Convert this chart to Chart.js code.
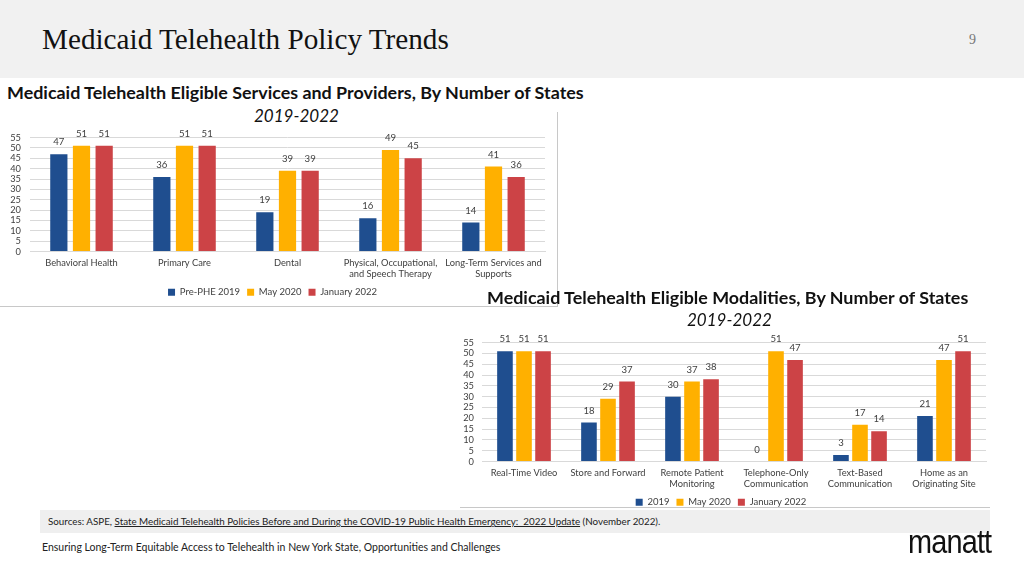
<!DOCTYPE html>
<html>
<head>
<meta charset="utf-8">
<script src="https://cdn.jsdelivr.net/npm/chart.js@4"></script>
<style>
  html,body{margin:0;padding:0;background:#fff;}
  body{width:1024px;height:576px;position:relative;overflow:hidden;font-family:Lato,"Open Sans",sans-serif;}
  .abs{position:absolute;white-space:nowrap;}
  #header{left:0;top:0;width:1024px;height:78px;background:#f1f1f1;}
  #htitle{left:42px;top:23px;font-family:"Liberation Serif","DejaVu Serif",serif;font-size:29.2px;color:#111;}
  #pnum{left:969px;top:32px;font-family:"Liberation Serif",serif;font-size:14px;color:#777;}
  .ctitle{font-weight:bold;font-size:17.9px;color:#111;}
  .csub{font-style:italic;font-size:17px;color:#111;}
  #frame1{left:0;top:112px;width:557px;height:194px;border-right:1px solid #c8c8c8;border-bottom:1px solid #c8c8c8;}
  #line2{left:460px;top:507px;width:530px;height:0;border-top:1px solid #c8c8c8;}
  #src{left:40px;top:510px;width:950px;height:23px;background:#efefef;}
  #srct{left:48px;top:515px;font-size:9.8px;color:#222;}
  #foot{left:42px;top:541px;font-size:10.5px;color:#222;}
  #logo{left:908px;top:522px;font-family:"Liberation Sans Narrow","Liberation Sans",sans-serif;font-size:34px;color:#111;letter-spacing:-1px;transform:scaleX(0.85);transform-origin:0 0;}
</style>
</head>
<body>
<div id="header" class="abs"></div>
<div id="htitle" class="abs">Medicaid Telehealth Policy Trends</div>
<div id="pnum" class="abs">9</div>
<div id="frame1" class="abs"></div>
<div class="abs ctitle" style="left:7px;top:81px;">Medicaid Telehealth Eligible Services and Providers, By Number of States</div>
<div class="abs csub" style="left:254px;top:105px;">2019-2022</div>
<div class="abs" style="left:0;top:123px;width:557px;height:184px;"><canvas id="c1"></canvas></div>
<div class="abs ctitle" style="left:487px;top:286px;">Medicaid Telehealth Eligible Modalities, By Number of States</div>
<div class="abs csub" style="left:687px;top:309px;">2019-2022</div>
<div class="abs" style="left:456px;top:329px;width:540px;height:188px;"><canvas id="c2"></canvas></div>
<div id="line2" class="abs"></div>
<div id="src" class="abs"></div>
<div id="srct" class="abs">Sources: ASPE, <u>State Medicaid Telehealth Policies Before and During the COVID-19 Public Health Emergency:&nbsp; 2022 Update</u> (November 2022).</div>
<div id="foot" class="abs">Ensuring Long-Term Equitable Access to Telehealth in New York State, Opportunities and Challenges</div>
<div id="logo" class="abs">manatt</div>
<script>
const servicesCategories = ["Behavioral Health", "Primary Care", "Dental", ["Physical, Occupational,", "and Speech Therapy"], ["Long-Term Services and", "Supports"]];
const servicesPrePHE2019 = [47, 36, 19, 16, 14];
const servicesMay2020 = [51, 51, 39, 49, 41];
const servicesJan2022 = [51, 51, 39, 45, 36];
const servicesSeriesNames = ["Pre-PHE 2019", "May 2020", "January 2022"];

const modalityCategories = ["Real-Time Video", "Store and Forward", ["Remote Patient", "Monitoring"], ["Telephone-Only", "Communication"], ["Text-Based", "Communication"], ["Home as an", "Originating Site"]];
const modality2019 = [51, 18, 30, 0, 3, 21];
const modalityMay2020 = [51, 29, 37, 51, 17, 47];
const modalityJan2022 = [51, 37, 38, 47, 14, 51];
const modalitySeriesNames = ["2019", "May 2020", "January 2022"];

const yTicks = [0, 5, 10, 15, 20, 25, 30, 35, 40, 45, 50, 55];

const COLORS = ["#1f4e8f", "#ffb000", "#cc4346"];
const FONT = 'Lato, "Open Sans", sans-serif';
Chart.defaults.font.family = FONT;
Chart.defaults.color = "#404040";

const valueLabels = {
  id: "valueLabels",
  afterDatasetsDraw(chart) {
    const ctx = chart.ctx;
    ctx.save();
    ctx.font = "9.6px " + FONT;
    ctx.fillStyle = "#404040";
    ctx.textAlign = "center";
    ctx.textBaseline = "middle";
    chart.data.datasets.forEach((ds, i) => {
      const meta = chart.getDatasetMeta(i);
      meta.data.forEach((bar, j) => {
        ctx.fillText(String(ds.data[j]), bar.x, bar.y - 12);
      });
    });
    ctx.restore();
  }
};

function makeChart(id, cats, series, names, opts) {
  return new Chart(document.getElementById(id), {
    type: "bar",
    data: {
      labels: cats,
      datasets: series.map((d, i) => ({
        label: names[i],
        data: d,
        backgroundColor: COLORS[i],
        borderWidth: 0,
        categoryPercentage: opts.catPct,
        barPercentage: opts.barPct
      }))
    },
    options: {
      responsive: true,
      maintainAspectRatio: false,
      animation: false,
      events: [],
      layout: { padding: opts.padding },
      plugins: {
        legend: {
          position: "bottom",
          labels: { boxWidth: 7, boxHeight: 7, padding: 7, font: { size: 9.5 }, color: "#404040" }
        },
        tooltip: { enabled: false }
      },
      scales: {
        x: {
          grid: { display: false, drawTicks: false },
          border: { display: true, color: "#d9d9d9" },
          ticks: { font: { size: 9.3, lineHeight: 1.18 }, color: "#404040", padding: 6, maxRotation: 0, autoSkip: false },
          afterFit: s => { s.height = opts.xh; }
        },
        y: {
          min: 0, max: 55,
          afterBuildTicks: s => { s.ticks = yTicks.map(v => ({ value: v })); },
          grid: { color: "#d9d9d9", drawTicks: false },
          border: { display: false },
          ticks: { font: { size: 9.3 }, color: "#404040", padding: opts.ytp, autoSkip: false },
          afterFit: s => { s.width = opts.yw; }
        }
      }
    },
    plugins: [valueLabels]
  });
}

makeChart("c1", servicesCategories, [servicesPrePHE2019, servicesMay2020, servicesJan2022], servicesSeriesNames,
  { catPct: 0.66, barPct: 0.76, padding: { top: 0, right: 12, left: 0, bottom: 0 }, yw: 30, xh: 29, ytp: 9 });
makeChart("c2", modalityCategories, [modality2019, modalityMay2020, modalityJan2022], modalitySeriesNames,
  { catPct: 0.68, barPct: 0.82, padding: { top: 0, right: 10, left: 0, bottom: 0 }, yw: 26, xh: 29, ytp: 8 });
</script>
</body>
</html>
